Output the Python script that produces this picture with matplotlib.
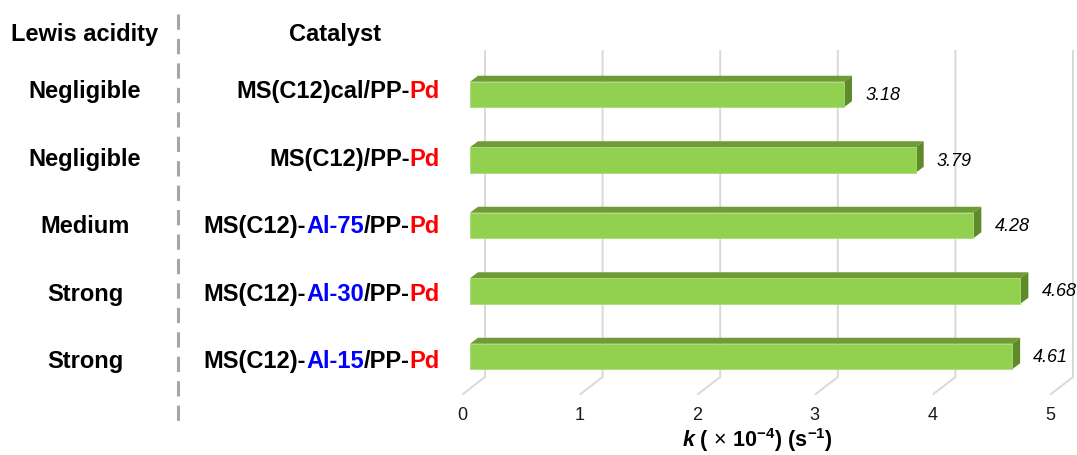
import matplotlib
matplotlib.use('Agg')
import matplotlib.pyplot as plt
from matplotlib.patches import Polygon
from matplotlib.lines import Line2D

plt.rcParams['font.family'] = ['Liberation Sans', 'DejaVu Sans']
plt.rcParams['mathtext.fontset'] = 'custom'
plt.rcParams['mathtext.rm'] = 'Liberation Sans'
plt.rcParams['mathtext.bf'] = 'Liberation Sans:bold'
plt.rcParams['mathtext.it'] = 'Liberation Sans:italic'
plt.rcParams['mathtext.bfit'] = 'Liberation Sans:italic:bold'

acidity = ['Negligible', 'Negligible', 'Medium', 'Strong', 'Strong']
# catalyst names, split into coloured pieces
catalysts = [
    [('MS(C12)cal/PP-', 'black'), ('Pd', '#ff0000')],
    [('MS(C12)/PP-', 'black'), ('Pd', '#ff0000')],
    [('MS(C12)-', 'black'), ('Al-75', '#0000ff'), ('/PP-', 'black'), ('Pd', '#ff0000')],
    [('MS(C12)-', 'black'), ('Al-30', '#0000ff'), ('/PP-', 'black'), ('Pd', '#ff0000')],
    [('MS(C12)-', 'black'), ('Al-15', '#0000ff'), ('/PP-', 'black'), ('Pd', '#ff0000')],
]
k_values = [3.18, 3.79, 4.28, 4.68, 4.61]
ticks = [0, 1, 2, 3, 4, 5]

W, H = 1077, 456
PX = 117.6      # pixels per unit of k
X0 = 485        # back-wall position of k = 0
ROW = 65.5      # pixels between bars
Y0 = 95.5       # centre of the first bar
TROW = 67.6     # pixels between table rows
TY0 = 91.5      # first table row


def dx(p):
    return p / PX


def dy(p):
    return p / ROW


def py(p):
    return (p - Y0) / ROW


fig = plt.figure(figsize=(W / 100, H / 100), dpi=100)
ax = fig.add_axes([0, 0, 1, 1])
ax.set_xlim(-X0 / PX, (W - X0) / PX)
ax.set_ylim((H - Y0) / ROW, -Y0 / ROW)
ax.axis('off')

# back wall gridlines + floor
for t in ticks:
    ax.plot([t, t, t - dx(22)], [py(52), py(378), py(395)],
            color='#d9d9d9', lw=1.4, zorder=1, solid_joinstyle='miter')
    ax.text(t - dx(23), py(416), str(t), ha='center', va='center',
            fontsize=13, color='#1a1a1a')

ax.text(2.5 - dx(22), py(440),
        r'$\mathbfit{k}$ $\mathbf{(}\,\times\,\mathbf{10^{-4})\ (s^{-1})}$',
        ha='center', va='center', fontsize=15.5)

# 3-D bars
face, top, side = '#92d050', '#6f9b36', '#5f8a2b'
off = dx(-15)
half = dy(12.75)
ddx, ddy = dx(8), dy(-6)
for i, v in enumerate(k_values):
    x0, x1 = off, v + off
    yt, yb = i - half, i + half
    ax.add_patch(Polygon([(x0, yt), (x1, yt), (x1 + ddx, yt + ddy), (x0 + ddx, yt + ddy)],
                         closed=True, fc=top, ec='none', zorder=3))
    ax.add_patch(Polygon([(x1, yt), (x1 + ddx, yt + ddy), (x1 + ddx, yb + ddy), (x1, yb)],
                         closed=True, fc=side, ec='none', zorder=3))
    ax.add_patch(Polygon([(x0, yt), (x1, yt), (x1, yb), (x0, yb)],
                         closed=True, fc=face, ec='#a8dc74', lw=0.6, zorder=4))
    ax.annotate(f'{v:.2f}', xy=(x1 + ddx, i), xytext=(9.5, 0),
                textcoords='offset points', ha='left', va='center',
                style='italic', fontsize=13, zorder=5)

# left-hand table
tr = ax.get_yaxis_transform()
ax.text(85 / W, py(34), 'Lewis acidity', transform=tr, ha='center', va='center',
        fontsize=17, fontweight='bold')
ax.text(335 / W, py(34), 'Catalyst', transform=tr, ha='center', va='center',
        fontsize=17, fontweight='bold')

for i, (name, parts) in enumerate(zip(acidity, catalysts)):
    y = py(TY0 + TROW * i)
    ax.text(85 / W, y, name, transform=tr, ha='center', va='center',
            fontsize=17, fontweight='bold')
    txt, col = parts[-1]
    prev = ax.text(440 / W, y, txt, transform=tr, ha='right', va='center',
                   fontsize=17, fontweight='bold', color=col)
    for txt, col in reversed(parts[:-1]):
        prev = ax.annotate(txt, xy=(0, 0), xycoords=prev, ha='right', va='bottom',
                           fontsize=17, fontweight='bold', color=col)

fig.add_artist(Line2D([178 / W, 178 / W], [1 - 15 / H, 1 - 425 / H],
                      color='#a6a6a6', lw=2.2, dashes=(5, 3)))

fig.savefig('out.png', dpi=100)
